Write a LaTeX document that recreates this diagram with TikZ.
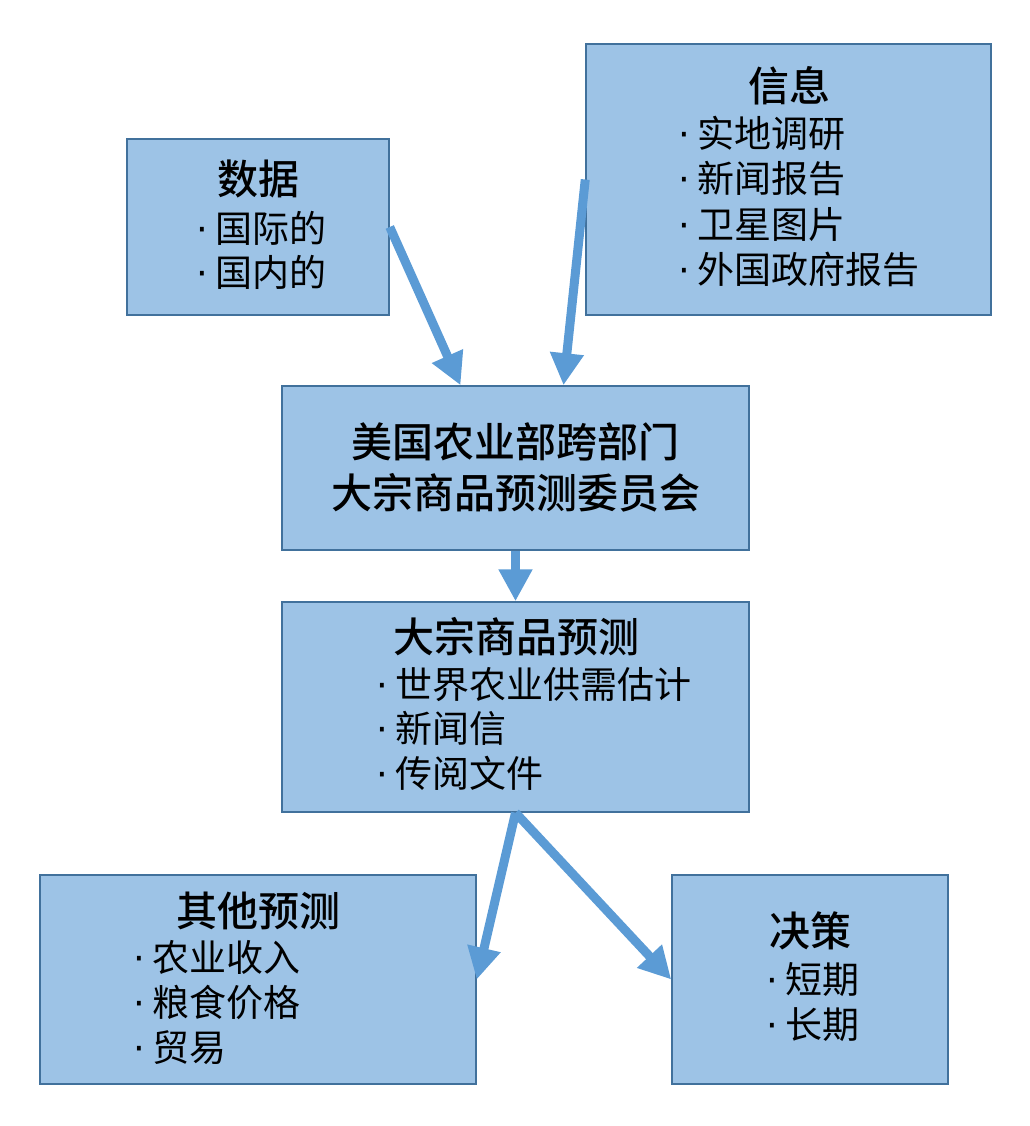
\documentclass[tikz,border=0pt]{standalone}
\usepackage{fontspec}
\usetikzlibrary{arrows.meta}
\newfontfamily\cjk{Noto Sans CJK SC}[BoldFont={Noto Sans CJK SC Medium}]
\newfontfamily\dotfont{DejaVu Sans}
\definecolor{boxfill}{HTML}{9DC3E6}
\definecolor{boxline}{HTML}{41719C}
\definecolor{arrowblue}{HTML}{5B9BD5}
\newcommand{\titlefont}{\cjk\bfseries\fontsize{41}{49}\selectfont}
\newcommand{\itemfont}{\cjk\fontsize{37}{45}\selectfont}
\newcommand{\dotitem}[1]{\makebox[15pt][l]{\kern-3.5pt{\dotfont ·}}#1}

\begin{document}
\begin{tikzpicture}[x=1pt,y=-1pt,
    box/.style={draw=boxline,line width=1.5pt,fill=boxfill,inner sep=0pt},
    title/.style={anchor=base,inner sep=0pt,font=\titlefont},
    item/.style={anchor=base west,inner sep=0pt,font=\itemfont},
    link/.style={arrowblue,line width=9pt,-{Triangle[width=32pt,length=32pt]}}]
            \path[use as bounding box] (0,0) rectangle (1029,1126);

            % boxes
            \node[box,minimum width=262pt,minimum height=176pt] (data) at (258,227) {};
            \node[box,minimum width=405pt,minimum height=271pt] (info) at (788.5,179.5) {};
            \node[box,minimum width=467pt,minimum height=164pt] (usda) at (515.5,468) {};
            \node[box,minimum width=467pt,minimum height=210pt] (fcst) at (515.5,707) {};
            \node[box,minimum width=436pt,minimum height=209pt] (other) at (258,979.5) {};
            \node[box,minimum width=276pt,minimum height=209pt] (dec) at (810,979.5) {};

            % titles
            \node[title] (data-t) at (258,194) {数据};
            \node[title] (info-t) at (789,102) {信息};
            \node[title] (usda-t1) at (515.5,457) {美国农业部跨部门};
            \node[title] (usda-t2) at (515.5,508) {大宗商品预测委员会};
            \node[title] (fcst-t) at (516,652) {大宗商品预测};
            \node[title] (other-t) at (258,926) {其他预测};
            \node[title] (dec-t) at (810,946) {决策};

            % items
            \foreach[count=\i] \t in {国际的,国内的}
                \node[item] (data\i) at (200,{242+44*(\i-1)}) {\dotitem{\t}};
            \foreach[count=\i] \t in {实地调研,新闻报告,卫星图片,外国政府报告}
                \node[item] (info\i) at (682,{148+45*(\i-1)}) {\dotitem{\t}};
            \foreach[count=\i] \t in {世界农业供需估计,新闻信,传阅文件}
                \node[item] (fcst\i) at (380,{698+44.5*(\i-1)}) {\dotitem{\t}};
            \foreach[count=\i] \t in {农业收入,粮食价格,贸易}
                \node[item] (other\i) at (137,{971+45*(\i-1)}) {\dotitem{\t}};
            \foreach[count=\i] \t in {短期,长期}
                \node[item] (dec\i) at (770,{993+45*(\i-1)}) {\dotitem{\t}};

            % arrows
            \draw[link] (data.east) -- ([xshift=-55pt]usda.north);
            \draw[link] (info.west) -- ([xshift=48pt]usda.north);
            \draw[link] (usda.south) -- (fcst.north);
            \draw[link] (fcst.south) -- (other.east);
            \draw[link] (fcst.south) -- (dec.west);
        \end{tikzpicture}
\end{document}
